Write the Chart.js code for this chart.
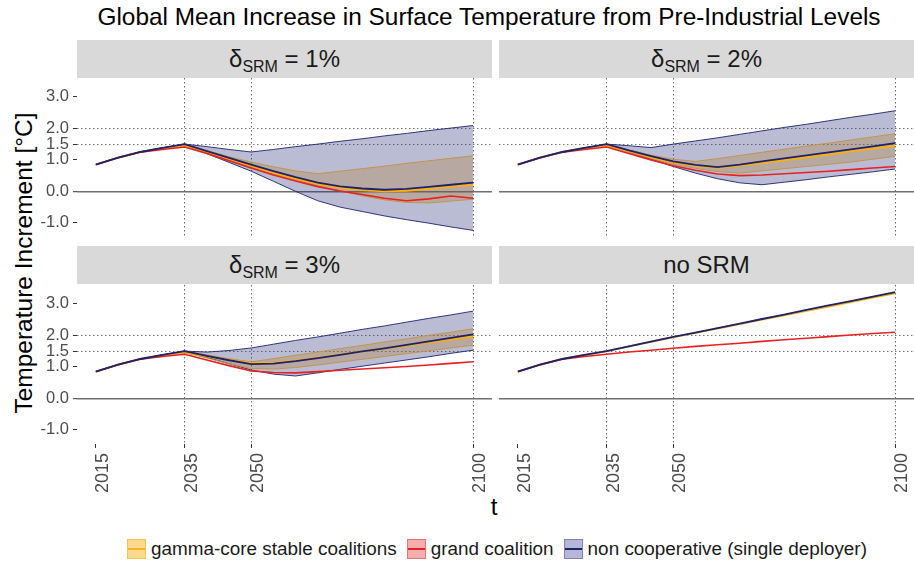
<!DOCTYPE html>
<html><head><meta charset="utf-8">
<script src="https://cdn.jsdelivr.net/npm/chart.js@4.4.1/dist/chart.umd.min.js"></script>
<style>
body{margin:0;width:914px;height:565px;background:#fff;position:relative;overflow:hidden;font-family:"Liberation Sans",Arial,Helvetica,sans-serif;}
canvas{position:absolute;}
.strip{position:absolute;background:#d9d9d9;display:flex;align-items:center;justify-content:center;font-size:24px;color:#1a1a1a;}
.strip sub{font-size:16px;vertical-align:-5px;line-height:0;}
#title{position:absolute;top:3px;left:489px;transform:translateX(-50%);white-space:nowrap;font-size:24.4px;color:#000;}
#ytitle{position:absolute;left:24px;top:263px;transform:translate(-50%,-50%) rotate(-90deg);white-space:nowrap;font-size:24.5px;color:#000;}
#xtitle{position:absolute;left:494px;top:507px;transform:translate(-50%,-50%);font-size:24px;color:#000;}
#legend{position:absolute;left:502px;top:549px;transform:translate(-50%,-50%);display:flex;align-items:center;white-space:nowrap;font-size:18.9px;color:#1a1a1a;}
.key{width:19px;height:20px;position:relative;margin-right:5px;box-sizing:border-box;}
.key span{position:absolute;left:0;right:0;top:8px;height:2px;}
.lab{margin-right:10px;}
</style></head>
<body>
<div id="title">Global Mean Increase in Surface Temperature from Pre-Industrial Levels</div>
<div id="ytitle">Temperature Increment [°C]</div>
<div id="xtitle">t</div>
<div class="strip" style="left:77px;top:40px;width:415px;height:38px;"><span>δ<sub>SRM</sub> = 1%</span></div>
<div class="strip" style="left:499px;top:40px;width:415px;height:38px;"><span>δ<sub>SRM</sub> = 2%</span></div>
<div class="strip" style="left:77px;top:246px;width:415px;height:38px;"><span>δ<sub>SRM</sub> = 3%</span></div>
<div class="strip" style="left:499px;top:246px;width:415px;height:38px;"><span>no SRM</span></div>
<canvas id="c1"></canvas><canvas id="c2"></canvas><canvas id="c3"></canvas><canvas id="c4"></canvas>
<div id="legend">
  <div class="key" style="background:#fbd98f;border:1px solid #f6c14e;"><span style="background:#f7b32b"></span></div><div class="lab">gamma-core stable coalitions</div>
  <div class="key" style="background:#f3aeae;border:1px solid #ee7070;"><span style="background:#e82020"></span></div><div class="lab">grand coalition</div>
  <div class="key" style="background:#b4b7d7;border:1px solid #7f84b5;"><span style="background:#1c2270"></span></div><div class="lab">non cooperative (single deployer)</div>
</div>
<script>
// ---------- data ----------
const years = [2015,2020,2025,2030,2035,2040,2045,2050,2055,2060,2065,2070,2075,2080,2085,2090,2095,2100];
const xTickValues = [2015, 2035, 2050, 2100];
const yTickValues = [-1, 0, 1, 1.5, 2, 3];

// delta_SRM = 1%
const ncMean1 = [0.85,1.07,1.25,1.38,1.50,1.28,1.06,0.85,0.64,0.45,0.28,0.16,0.09,0.05,0.08,0.14,0.21,0.28];
const ncLow1  = [0.85,1.07,1.25,1.38,1.50,1.20,0.92,0.64,0.32,0.00,-0.30,-0.50,-0.64,-0.78,-0.90,-1.01,-1.13,-1.24];
const ncHigh1 = [0.85,1.07,1.25,1.38,1.50,1.42,1.33,1.25,1.33,1.42,1.50,1.59,1.67,1.76,1.84,1.93,2.01,2.09];
const gcMean1 = [0.85,1.07,1.25,1.37,1.46,1.26,1.03,0.81,0.60,0.41,0.24,0.11,0.04,0.00,0.02,0.08,0.15,0.22];
const gcLow1  = [0.85,1.07,1.25,1.37,1.45,1.22,0.99,0.76,0.55,0.36,0.18,0.02,-0.14,-0.27,-0.35,-0.37,-0.31,-0.25];
const gcHigh1 = [0.85,1.07,1.25,1.38,1.50,1.30,1.10,0.93,0.78,0.65,0.56,0.64,0.72,0.80,0.89,0.97,1.05,1.13];
const grand1  = [0.85,1.07,1.24,1.33,1.41,1.20,0.97,0.74,0.52,0.33,0.15,0.01,-0.10,-0.22,-0.30,-0.24,-0.15,-0.22];
// delta_SRM = 2%
const ncMean2 = [0.85,1.07,1.25,1.38,1.50,1.30,1.12,0.95,0.84,0.77,0.85,0.95,1.05,1.14,1.24,1.33,1.43,1.53];
const ncLow2  = [0.85,1.07,1.25,1.38,1.50,1.25,1.02,0.79,0.58,0.40,0.27,0.21,0.29,0.37,0.46,0.54,0.62,0.71];
const ncHigh2 = [0.85,1.07,1.25,1.38,1.50,1.45,1.39,1.50,1.60,1.70,1.81,1.92,2.03,2.13,2.24,2.35,2.45,2.56];
const gcMean2 = [0.85,1.07,1.25,1.37,1.46,1.28,1.09,0.92,0.82,0.75,0.82,0.90,0.99,1.08,1.17,1.27,1.36,1.45];
const gcLow2  = [0.85,1.07,1.25,1.37,1.45,1.24,1.04,0.86,0.73,0.63,0.58,0.65,0.72,0.79,0.86,0.93,1.02,1.11];
const gcHigh2 = [0.85,1.07,1.25,1.38,1.50,1.32,1.15,1.02,0.95,1.04,1.14,1.24,1.34,1.44,1.53,1.63,1.73,1.83];
const grand2  = [0.85,1.07,1.24,1.33,1.41,1.20,1.00,0.81,0.67,0.55,0.50,0.52,0.56,0.60,0.64,0.69,0.74,0.79];
// delta_SRM = 3%
const ncMean3 = [0.85,1.07,1.25,1.38,1.50,1.35,1.21,1.09,1.10,1.18,1.28,1.38,1.49,1.59,1.70,1.81,1.92,2.03];
const ncLow3  = [0.85,1.07,1.25,1.38,1.50,1.30,1.10,0.90,0.77,0.71,0.81,0.92,1.02,1.12,1.22,1.32,1.43,1.53];
const ncHigh3 = [0.85,1.07,1.25,1.38,1.50,1.47,1.52,1.60,1.72,1.84,1.95,2.07,2.19,2.30,2.42,2.54,2.65,2.77];
const gcMean3 = [0.85,1.07,1.25,1.37,1.46,1.34,1.22,1.12,1.13,1.20,1.30,1.39,1.49,1.58,1.68,1.78,1.87,1.97];
const gcLow3  = [0.85,1.07,1.25,1.37,1.45,1.28,1.10,0.95,0.93,0.98,1.06,1.15,1.24,1.33,1.42,1.51,1.60,1.69];
const gcHigh3 = [0.85,1.07,1.25,1.38,1.50,1.38,1.26,1.16,1.26,1.37,1.47,1.58,1.68,1.79,1.89,2.00,2.10,2.21];
const grand3  = [0.85,1.07,1.24,1.33,1.40,1.22,1.04,0.87,0.82,0.81,0.85,0.89,0.93,0.97,1.01,1.06,1.11,1.16];
// no SRM
const ncMean4 = [0.85,1.07,1.25,1.38,1.50,1.65,1.80,1.95,2.09,2.23,2.37,2.52,2.66,2.81,2.95,3.09,3.23,3.37];
const gcMean4 = [0.85,1.07,1.25,1.38,1.50,1.65,1.80,1.94,2.08,2.22,2.36,2.50,2.64,2.78,2.92,3.06,3.20,3.34];
const grand4  = [0.85,1.07,1.24,1.33,1.40,1.47,1.53,1.59,1.65,1.70,1.75,1.81,1.86,1.91,1.96,2.01,2.06,2.10];

// ---------- styling ----------
const NAVY = '#1c2270', RED = '#e82020', ORANGE = '#ffb000', TAN = '#c39448';
const NFILL = 'rgba(28,34,112,0.30)', GFILL = 'rgba(175,125,45,0.30)';
const TICKCOL = '#4d4d4d';
Chart.defaults.font.family = '"Liberation Sans", Arial, Helvetica, sans-serif';

function pts(arr){ return years.map((y,i)=>({x:y, y:arr[i]})); }

function buildDatasets(s){
  const line = (arr,color,w)=>({data:pts(arr),borderColor:color,borderWidth:w,pointRadius:0,fill:false,tension:0});
  const ds = [ line(s.ncMean,NAVY,1.8), line(s.grand,RED,1.6), line(s.gcMean,ORANGE,2) ];
  if (s.gcHigh){
    ds.push(Object.assign(line(s.gcHigh,TAN,1),{fill:'+1',backgroundColor:GFILL}));
    ds.push(line(s.gcLow,TAN,1));
  }
  if (s.ncHigh){
    ds.push(Object.assign(line(s.ncHigh,NAVY,0.9),{fill:'+1',backgroundColor:NFILL}));
    ds.push(line(s.ncLow,NAVY,0.9));
  }
  return ds;
}

function makePanel(id, s, box){
  const cv = document.getElementById(id);
  const yW = box.showY ? 77 : 0;
  const xH = box.showX ? 62 : 0;
  const W = box.w + yW, H = box.h + xH;
  cv.width = W; cv.height = H;
  cv.style.left = (box.l - yW) + 'px'; cv.style.top = box.t + 'px';
  cv.style.width = W + 'px'; cv.style.height = H + 'px';
  new Chart(cv, {
    type:'line',
    data:{datasets:buildDatasets(s)},
    options:{
      responsive:false, animation:false, devicePixelRatio:1,
      layout:{padding:0},
      plugins:{legend:{display:false}, tooltip:{enabled:false}, filler:{drawTime:'beforeDatasetsDraw'}},
      scales:{
        x:{type:'linear', min:2010.75, max:2104.25,
          afterBuildTicks:(sc)=>{sc.ticks = xTickValues.map(v=>({value:v}));},
          afterFit:(sc)=>{sc.height = xH; sc.paddingLeft = 0; sc.paddingRight = 0; sc.paddingTop = 0; sc.paddingBottom = 0;},
          grid:{color:(c)=> c.tick && c.tick.value===2015 ? 'rgba(0,0,0,0)' : '#6a6a6a',
                lineWidth:1, drawTicks:box.showX, tickLength:4, tickColor:'#333', tickWidth:1},
          border:{display:false, dash:[1.5,2.5]},
          ticks:{display:box.showX, autoSkip:false, maxRotation:90, minRotation:90, padding:5, labelOffset:7,
                 color:TICKCOL, font:{size:18}, callback:(v)=>String(v)}
        },
        y:{type:'linear', min:-1.45, max:3.6,
          afterBuildTicks:(sc)=>{sc.ticks = yTickValues.map(v=>({value:v}));},
          afterFit:(sc)=>{sc.width = yW; sc.paddingTop = 0; sc.paddingBottom = 0; sc.paddingLeft = 0; sc.paddingRight = 0;},
          grid:{color:(c)=>{const v=c.tick&&c.tick.value; return v===0?'#707070':(v===1.5||v===2)?'#7a7a7a':'rgba(0,0,0,0)';},
                lineWidth:(c)=> c.tick && c.tick.value===0 ? 1.4 : 1,
                drawTicks:box.showY, tickLength:4, tickColor:'#333', tickWidth:1},
          border:{display:false, dash:(c)=> c.tick && c.tick.value===0 ? [] : [1.5,2.5]},
          ticks:{display:box.showY, autoSkip:false, padding:4, color:TICKCOL, font:{size:16.5},
                 callback:(v)=>v.toFixed(1)}
        }
      }
    }
  });
}

makePanel('c1', {ncMean:ncMean1,ncLow:ncLow1,ncHigh:ncHigh1,gcMean:gcMean1,gcLow:gcLow1,gcHigh:gcHigh1,grand:grand1}, {l:77,t:78,w:415,h:159,showY:true,showX:false});
makePanel('c2', {ncMean:ncMean2,ncLow:ncLow2,ncHigh:ncHigh2,gcMean:gcMean2,gcLow:gcLow2,gcHigh:gcHigh2,grand:grand2}, {l:499,t:78,w:415,h:159,showY:false,showX:false});
makePanel('c3', {ncMean:ncMean3,ncLow:ncLow3,ncHigh:ncHigh3,gcMean:gcMean3,gcLow:gcLow3,gcHigh:gcHigh3,grand:grand3}, {l:77,t:285,w:415,h:159,showY:true,showX:true});
makePanel('c4', {ncMean:ncMean4,gcMean:gcMean4,grand:grand4}, {l:499,t:285,w:415,h:159,showY:false,showX:true});
</script>
</body></html>
